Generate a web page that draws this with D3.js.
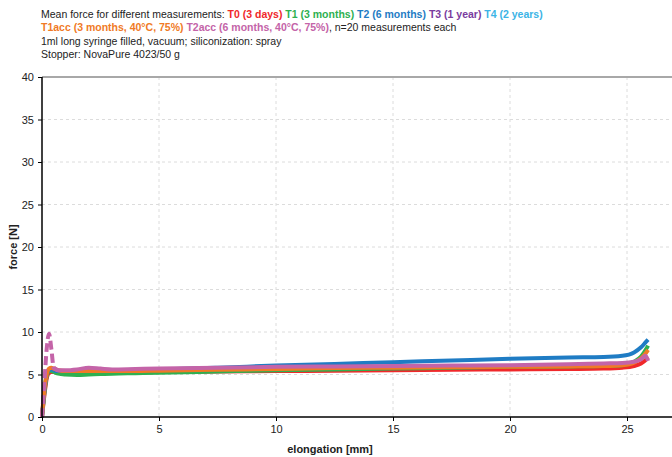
<!DOCTYPE html>
<html>
<head>
<meta charset="utf-8">
<script src="https://cdn.jsdelivr.net/npm/d3@7"></script>
<style>
  body { margin: 0; background: #fff; }
  svg { font-family: "Liberation Sans", Arial, sans-serif; }
  .grid line { stroke: #dcdcdc; stroke-dasharray: 3,3; }
  .axis path, .axis line { stroke: #000; }
  .axis text { font-size: 11px; fill: #222; }
</style>
</head>
<body>
<div id="main"></div>
<script>
// elongation [mm] shared by all series
const elongation = [0, 0.1, 0.2, 0.3, 0.4, 0.5, 0.7, 1, 1.5, 2, 2.5, 3, 4, 5, 7.5, 10, 12.5, 15, 17.5, 20, 22.5, 24, 24.8, 25.3, 25.6, 25.8, 25.9];

// mean force [N]
const t0 = [0, 2.5, 4.5, 5.2, 5.3, 5.3, 5.2, 5.2, 5.15, 5.15, 5.2, 5.2, 5.25, 5.3, 5.35, 5.4, 5.45, 5.5, 5.55, 5.6, 5.65, 5.7, 5.8, 6.0, 6.3, 6.7, 7.0];
const t1 = [0, 2.8, 4.8, 5.4, 5.4, 5.3, 5.1, 5.0, 4.95, 5.0, 5.05, 5.1, 5.15, 5.2, 5.35, 5.5, 5.6, 5.7, 5.8, 5.9, 5.95, 6.0, 6.1, 6.5, 7.1, 7.9, 8.4];
const t2 = [0, 3.0, 5.0, 5.6, 5.6, 5.5, 5.4, 5.4, 5.4, 5.45, 5.5, 5.5, 5.55, 5.6, 5.8, 6.05, 6.25, 6.45, 6.65, 6.85, 7.0, 7.05, 7.2, 7.6, 8.2, 8.8, 9.1];
const t1acc = [0, 3.2, 5.0, 5.7, 5.8, 5.7, 5.5, 5.4, 5.4, 5.4, 5.4, 5.4, 5.4, 5.45, 5.55, 5.65, 5.75, 5.8, 5.85, 5.9, 5.95, 6.0, 6.1, 6.4, 6.9, 7.5, 7.9];
const t2acc = [0, 4.0, 8.0, 9.8, 8.0, 5.8, 5.5, 5.5, 5.6, 5.8, 5.7, 5.6, 5.65, 5.7, 5.8, 5.9, 5.95, 6.0, 6.05, 6.1, 6.2, 6.3, 6.35, 6.5, 6.8, 7.2, 6.6];

const xTicks = [0, 5, 10, 15, 20, 25];
const yTicks = [0, 5, 10, 15, 20, 25, 30, 35, 40];

const series = [
  {name: "T0", values: t0, color: "#f0282a"},
  {name: "T1", values: t1, color: "#2eb050"},
  {name: "T2", values: t2, color: "#1f7cc4"},
  {name: "T1acc", values: t1acc, color: "#f07a26"},
  {name: "T2acc", values: t2acc, color: "#c464a8", dashUntil: 0.7}
];

const titleLines = [
  [["Mean force for different measurements: ", "#222", false], ["T0 (3 days) ", "#f0282a", true], ["T1 (3 months) ", "#2eb050", true],
   ["T2 (6 months) ", "#1f7cc4", true], ["T3 (1 year) ", "#7a3c9e", true], ["T4 (2 years)", "#3cb4e6", true]],
  [["T1acc (3 months, 40°C, 75%) ", "#f07a26", true], ["T2acc (6 months, 40°C, 75%)", "#c464a8", true], [", n=20 measurements each", "#222", false]],
  [["1ml long syringe filled, vacuum; siliconization: spray", "#222", false]],
  [["Stopper: NovaPure 4023/50 g", "#222", false]]
];

const width = 672, height = 457;
const svg = d3.select("#main").append("svg").attr("width", width).attr("height", height);

const x = d3.scaleLinear().domain([0, 27]).range([42, 42 + 27 * 23.4]);
const y = d3.scaleLinear().domain([0, 40]).range([417, 77]);

// title
const title = svg.append("text").attr("font-size", 10.5);
titleLines.forEach(function (parts, i) {
  parts.forEach(function (p, j) {
    const ts = title.append("tspan").text(p[0]).attr("fill", p[1]).attr("font-weight", p[2] ? "bold" : "normal");
    if (j === 0) ts.attr("x", 41).attr("y", 18 + i * 13.3);
  });
});

// grid
svg.append("g").attr("class", "grid")
  .selectAll("line.v").data(xTicks.filter(d => d > 0)).enter().append("line")
  .attr("x1", d => x(d)).attr("x2", d => x(d)).attr("y1", y(40)).attr("y2", y(0));
svg.append("g").attr("class", "grid")
  .selectAll("line.h").data(yTicks.filter(d => d > 0 && d < 40)).enter().append("line")
  .attr("x1", x(0)).attr("x2", width).attr("y1", d => y(d)).attr("y2", d => y(d));

// top frame
svg.append("line").attr("x1", x(0)).attr("x2", width).attr("y1", y(40)).attr("y2", y(40))
  .attr("stroke", "#a8a8a8").attr("stroke-width", 2);

// lines
const line = d3.line().x(d => x(d[0])).y(d => y(d[1])).curve(d3.curveMonotoneX);
series.forEach(function (s) {
  const pts = elongation.map((e, i) => [e, s.values[i]]);
  if (s.dashUntil) {
    svg.append("path").datum(pts.filter(d => d[0] <= s.dashUntil))
      .attr("fill", "none").attr("stroke", s.color).attr("stroke-width", 4)
      .attr("stroke-dasharray", "9,4").attr("d", line);
    svg.append("path").datum(pts.filter(d => d[0] >= 0.5))
      .attr("fill", "none").attr("stroke", s.color).attr("stroke-width", 4)
      .attr("stroke-linejoin", "round").attr("d", line);
  } else {
    svg.append("path").datum(pts)
      .attr("fill", "none").attr("stroke", s.color).attr("stroke-width", 4)
      .attr("stroke-linejoin", "round").attr("d", line);
  }
});

// axes
svg.append("g").attr("class", "axis")
  .attr("transform", "translate(0," + y(0) + ")")
  .call(d3.axisBottom(x).tickValues(xTicks).tickSize(4).tickPadding(4).tickFormat(d3.format("d")))
  .call(g => g.select(".domain").attr("d", "M" + x(0) + ",0H" + width).attr("stroke-width", 1.5));
svg.append("g").attr("class", "axis")
  .attr("transform", "translate(" + x(0) + ",0)")
  .call(d3.axisLeft(y).tickValues(yTicks).tickSize(4).tickPadding(4).tickFormat(d3.format("d")))
  .call(g => g.select(".domain").attr("d", "M0," + y(0) + "V" + y(40)).attr("stroke-width", 1.5));

// axis titles
svg.append("text").attr("x", 330).attr("y", 453).attr("text-anchor", "middle")
  .attr("font-size", 11).attr("font-weight", "bold").attr("fill", "#222").text("elongation [mm]");
svg.append("text").attr("transform", "translate(17,247) rotate(-90)").attr("text-anchor", "middle")
  .attr("font-size", 11).attr("font-weight", "bold").attr("fill", "#222").text("force [N]");
</script>
</body>
</html>
